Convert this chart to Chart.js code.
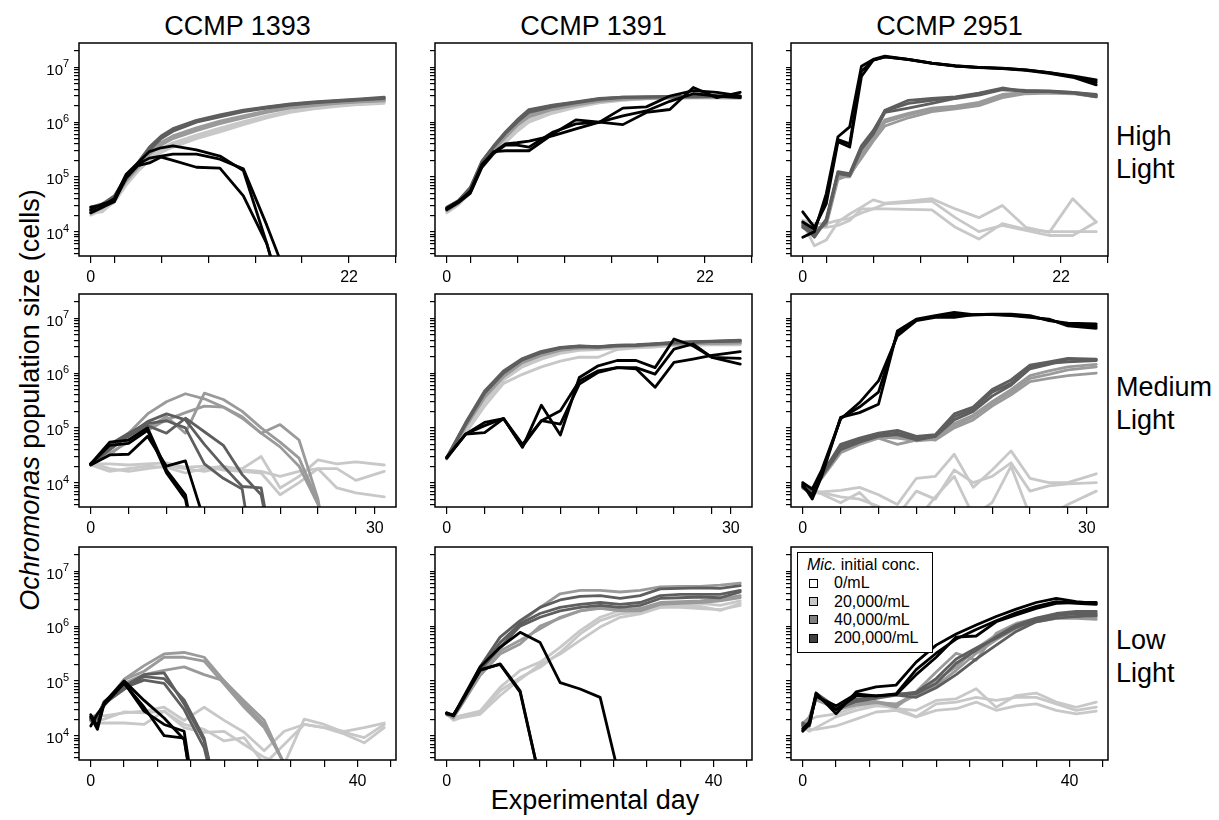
<!DOCTYPE html>
<html>
<head>
<meta charset="utf-8">
<script src="https://cdn.jsdelivr.net/npm/chart.js@4.4.0/dist/chart.umd.min.js"></script>
<style>
  body { margin:0; background:#fff; width:1219px; height:820px; position:relative; overflow:hidden;
         font-family:"Liberation Sans", Arial, sans-serif; color:#000; }
  canvas { position:absolute; }
  .lbl { position:absolute; font-size:27px; line-height:30px; white-space:nowrap; }
  .ctitle { width:317px; text-align:center; }
  .rlabel { line-height:33px; font-size:27px; }
  #ytitle { width:500px; text-align:center; transform:rotate(-90deg); }
  #legend { position:absolute; left:797px; top:552px; width:136px; height:101px; box-sizing:border-box;
            border:1.5px solid #000; background:#fff; font-size:16px; line-height:18.3px; padding:3px 0 0 9px; z-index:5; }
  #legend .li { position:relative; padding-left:27px; }
  #legend .sw { position:absolute; left:2px; top:4.5px; width:7px; height:7px; border:1px solid #000; }
</style>
</head>
<body>
<div class="lbl ctitle" style="left:79px; top:11px;">CCMP 1393</div>
<div class="lbl ctitle" style="left:435px; top:11px;">CCMP 1391</div>
<div class="lbl ctitle" style="left:791px; top:11px;">CCMP 2951</div>
<div class="lbl rlabel" style="left:1116px; top:120px;">High<br>Light</div>
<div class="lbl rlabel" style="left:1116px; top:371px;">Medium<br>Light</div>
<div class="lbl rlabel" style="left:1116px; top:624px;">Low<br>Light</div>
<div class="lbl" id="ytitle" style="left:-220px; top:385px;"><i>Ochromonas</i> population size (cells)</div>
<div class="lbl" style="left:395px; top:785px; width:400px; text-align:center;">Experimental day</div>
<div id="legend">
  <div><i>Mic.</i> initial conc.</div>
  <div class="li"><span class="sw" style="background:#ffffff"></span>0/mL</div>
  <div class="li"><span class="sw" style="background:#c8c8c8"></span>20,000/mL</div>
  <div class="li"><span class="sw" style="background:#808080"></span>40,000/mL</div>
  <div class="li"><span class="sw" style="background:#404040"></span>200,000/mL</div>
</div>
<script>
// ---- sampling days ----
const highDays = [0,1,2,3,4,5,6,7,9,11,13,15,17,19,21,23,25];
const medDays = [0,2,4,6,8,10,12,14,16,18,20,22,24,26,28,31];
const medDays2951 = [0,1,2,4,6,8,10,12,14,16,18,20,22,24,26,28,31];
const lowDays = [0,1,2,5,8,11,14,17,20,23,26,29,32,35,38,41,44];

// ---- High light (3 replicates per Mic. concentration) ----
const hi1393_0 = [
  [2.0e4,2.5e4,3.4e4,7e4,1.25e5,2.0e5,2.8e5,3.5e5,5.0e5,6.6e5,9.0e5,1.2e6,1.5e6,1.75e6,1.95e6,2.1e6,2.2e6],
  [2.2e4,2.3e4,3.6e4,7.5e4,1.3e5,2.2e5,3.0e5,3.8e5,5.4e5,7.2e5,9.6e5,1.25e6,1.55e6,1.8e6,2.0e6,2.15e6,2.3e6],
  [2.4e4,2.6e4,3.8e4,8e4,1.4e5,2.4e5,3.3e5,4.2e5,5.8e5,7.8e5,1.02e6,1.3e6,1.6e6,1.85e6,2.05e6,2.2e6,2.35e6]];
const hi1393_20k = [
  [2.3e4,2.8e4,4e4,8.5e4,1.5e5,2.8e5,4.0e5,5.2e5,7.4e5,9.8e5,1.25e6,1.55e6,1.85e6,2.05e6,2.25e6,2.4e6,2.5e6],
  [2.5e4,2.9e4,4.2e4,8.8e4,1.55e5,2.9e5,4.3e5,5.6e5,7.9e5,1.04e6,1.3e6,1.6e6,1.9e6,2.1e6,2.3e6,2.45e6,2.55e6],
  [2.2e4,2.7e4,3.9e4,8.2e4,1.45e5,2.6e5,3.8e5,5.0e5,7.0e5,9.4e5,1.2e6,1.5e6,1.8e6,2.0e6,2.2e6,2.35e6,2.45e6]];
const hi1393_40k = [
  [2.6e4,3.1e4,4.3e4,9.5e4,1.75e5,3.3e5,5.3e5,7.2e5,1.05e6,1.3e6,1.6e6,1.85e6,2.1e6,2.3e6,2.45e6,2.6e6,2.75e6],
  [2.4e4,3.0e4,4.1e4,9.0e4,1.65e5,3.1e5,5.0e5,6.8e5,1.0e6,1.25e6,1.55e6,1.8e6,2.05e6,2.25e6,2.4e6,2.55e6,2.7e6],
  [2.8e4,3.2e4,4.5e4,1.0e5,1.8e5,3.5e5,5.6e5,7.6e5,1.08e6,1.35e6,1.65e6,1.9e6,2.15e6,2.35e6,2.5e6,2.65e6,2.85e6]];
const hi1393_200k = [
  [2.8e4,3.0e4,4.0e4,1.1e5,1.8e5,2.9e5,3.4e5,3.7e5,3.1e5,2.4e5,1.3e5,6e3,200],
  [2.5e4,3.2e4,3.6e4,1.0e5,1.7e5,2.2e5,2.4e5,2.6e5,2.6e5,2.1e5,1.4e5,1.3e4,1000],
  [2.2e4,2.8e4,3.5e4,9.5e4,1.6e5,1.8e5,2.3e5,2.0e5,1.5e5,1.45e5,4.5e4,6e3,200]];

const hi1391_0 = [
  [2.4e4,3.3e4,5.5e4,1.6e5,2.8e5,4.5e5,7.2e5,1.05e6,1.5e6,1.9e6,2.3e6,2.55e6,2.7e6,2.75e6,2.8e6,2.8e6,2.75e6],
  [2.2e4,3.1e4,5.2e4,1.5e5,2.6e5,4.2e5,6.8e5,1.0e6,1.45e6,1.85e6,2.25e6,2.5e6,2.65e6,2.7e6,2.75e6,2.75e6,2.7e6],
  [2.5e4,3.4e4,5.8e4,1.7e5,3.0e5,4.8e5,7.6e5,1.1e6,1.55e6,1.95e6,2.35e6,2.6e6,2.75e6,2.8e6,2.85e6,2.85e6,2.8e6]];
const hi1391_20k = [
  [2.5e4,3.4e4,5.8e4,1.75e5,3.2e5,5.5e5,9e5,1.3e6,1.75e6,2.1e6,2.45e6,2.65e6,2.75e6,2.8e6,2.85e6,2.85e6,2.8e6],
  [2.6e4,3.5e4,6e4,1.8e5,3.3e5,5.8e5,9.5e5,1.35e6,1.8e6,2.15e6,2.5e6,2.7e6,2.8e6,2.85e6,2.9e6,2.9e6,2.85e6],
  [2.4e4,3.3e4,5.6e4,1.7e5,3.1e5,5.3e5,8.7e5,1.25e6,1.7e6,2.05e6,2.4e6,2.6e6,2.7e6,2.8e6,2.8e6,2.85e6,2.8e6]];
const hi1391_40k = [
  [2.7e4,3.6e4,6.2e4,1.95e5,3.7e5,6.6e5,1.1e6,1.7e6,2.05e6,2.35e6,2.7e6,2.85e6,2.9e6,2.9e6,2.95e6,3.0e6,2.95e6],
  [2.6e4,3.5e4,6e4,1.85e5,3.5e5,6.2e5,1.0e6,1.5e6,1.9e6,2.25e6,2.6e6,2.8e6,2.85e6,2.9e6,2.9e6,2.95e6,2.9e6],
  [2.8e4,3.7e4,6.4e4,1.9e5,3.6e5,6.4e5,1.05e6,1.6e6,2.0e6,2.3e6,2.65e6,2.85e6,2.9e6,2.95e6,2.95e6,3.0e6,2.9e6]];
const hi1391_200k = [
  [2.6e4,3.5e4,5.5e4,1.7e5,2.8e5,4.0e5,4.2e5,4.5e5,5.6e5,7.5e5,1.0e6,9.0e5,1.5e6,1.7e6,4.3e6,2.8e6,3.5e6],
  [2.7e4,3.6e4,5.2e4,1.6e5,2.9e5,3.0e5,3.0e5,3.0e5,6.0e5,1.1e6,1.0e6,1.8e6,1.9e6,3.0e6,3.75e6,3.5e6,3.0e6],
  [2.5e4,3.4e4,5.0e4,1.5e5,2.7e5,3.8e5,3.8e5,3.5e5,6.5e5,9.3e5,1.0e6,1.3e6,1.6e6,2.4e6,3.3e6,3.0e6,2.8e6]];

const hi2951_0 = [
  [1.4e4,5.5e3,7e3,1.5e4,2.1e4,2.8e4,3.8e4,3.3e4,3.6e4,4e4,2.6e4,1.8e4,3e4,1.2e4,9.7e3,4e4,1.5e4],
  [1.5e4,1.2e4,1.2e4,1.3e4,1.6e4,2.6e4,2.6e4,3.2e4,3.4e4,3.6e4,1.8e4,1.0e4,1.3e4,1.05e4,8.5e3,8.5e3,1.5e4],
  [1.6e4,1.4e4,1.4e4,1.6e4,1.75e4,2.2e4,2.6e4,2.6e4,2.55e4,2.5e4,1.2e4,7.3e3,1.4e4,1.1e4,1.0e4,1.0e4,1.0e4]];
const hi2951_20k = [
  [1.3e4,1.0e4,1.4e4,1.0e5,1.0e5,2.5e5,5e5,1.0e6,1.35e6,1.7e6,1.85e6,2.1e6,3.0e6,3.4e6,3.5e6,3.4e6,3.0e6],
  [1.5e4,1.1e4,1.3e4,9e4,1.1e5,2.2e5,4.5e5,8.5e5,1.2e6,1.55e6,1.75e6,2.0e6,2.8e6,3.3e6,3.4e6,3.3e6,2.9e6],
  [1.2e4,9e3,1.5e4,1.1e5,1.05e5,2.7e5,5.5e5,1.1e6,1.45e6,1.8e6,1.95e6,2.3e6,3.2e6,3.5e6,3.5e6,3.4e6,3.1e6]];
const hi2951_40k = [
  [1.3e4,7.9e3,1.6e4,1.2e5,1.1e5,3.5e5,6.5e5,1.65e6,2.5e6,2.7e6,2.9e6,3.4e6,4.2e6,3.6e6,3.6e6,3.4e6,2.9e6],
  [1.4e4,9e3,1.5e4,1.15e5,1.05e5,3.2e5,6e5,1.5e6,1.8e6,2.2e6,2.7e6,3.1e6,3.9e6,3.7e6,3.6e6,3.5e6,3.1e6],
  [1.2e4,8.5e3,1.7e4,1.25e5,1.15e5,3.7e5,7e5,1.6e6,2.2e6,2.5e6,2.8e6,3.3e6,4.0e6,3.8e6,3.7e6,3.5e6,3.2e6]];
const hi2951_200k = [
  [7.9e3,1.0e4,4.9e4,5.4e5,8.2e5,1.05e7,1.4e7,1.6e7,1.4e7,1.2e7,1.07e7,1.0e7,9.7e6,9.0e6,8.0e6,7.0e6,5.9e6],
  [2.3e4,1.2e4,3.2e4,4.4e5,3.5e5,6.8e6,1.35e7,1.55e7,1.38e7,1.18e7,1.05e7,1.0e7,9.5e6,8.8e6,7.8e6,6.6e6,4.8e6],
  [1.5e4,1.1e4,4.0e4,4.8e5,4.0e5,8.5e6,1.35e7,1.55e7,1.4e7,1.2e7,1.06e7,9.9e6,9.6e6,9.0e6,8.0e6,6.8e6,5.3e6]];

// ---- Medium light ----
const med1393_0 = [
  [2.3e4,1.8e4,1.6e4,1.8e4,2e4,1.8e4,1.6e4,1.9e4,1.8e4,3e4,8e3,1.3e4,2.6e4,2.2e4,2.4e4,2.1e4],
  [2.2e4,2.2e4,2.1e4,2.2e4,2.3e4,1.9e4,2e4,1.7e4,1.6e4,1.5e4,6e3,1e4,1.8e4,1.8e4,1.1e4,1.6e4],
  [2.1e4,1.6e4,1.8e4,2e4,1.9e4,1.5e4,1.8e4,2e4,1.7e4,1.6e4,1.3e4,1.6e4,1.8e4,8e3,6.5e3,5.5e3]];
const med1393_20k = [
  [2.2e4,4e4,8e4,1.8e5,3e5,4.2e5,3.4e5,2.4e5,1.6e5,8e4,4.5e4,2e4,4e3,50],
  [2.2e4,3.2e4,6e4,1e5,1.6e5,8e4,4.3e5,3.3e5,2e5,1e5,5.5e4,2.8e4,4.5e3,50],
  [2.2e4,3.5e4,5.5e4,9e4,1.4e5,1.9e5,2.5e5,2.4e5,1.5e5,8e4,1.15e5,6e4,5e3,50]];
const med1393_40k = [
  [2.2e4,5e4,8e4,1.2e5,1.35e5,1.0e5,2.2e4,1.2e4,7.6e3,50],
  [2.2e4,4.5e4,7.5e4,1.3e5,1.8e5,1.4e5,5e4,2e4,8.5e3,8e3,100],
  [2.1e4,4e4,7e4,1.1e5,8e4,1.5e5,8.5e4,4.8e4,1.4e4,6e3,100]];
const med1393_200k = [
  [2.2e4,5.5e4,6e4,1e5,1.7e4,6e3,100],
  [2.2e4,4.8e4,5.2e4,9e4,1.5e4,5e3,100],
  [2.1e4,3.2e4,3.3e4,7e4,2e4,2.5e4,2000]];

const med1391_0 = [
  [2.7e4,8e4,2.5e5,6.5e5,9.5e5,1.3e6,1.65e6,1.95e6,1.95e6,2.7e6,2.9e6,3.0e6,3.2e6,3.2e6,3.3e6,3.3e6],
  [2.8e4,9.5e4,3.2e5,8e5,1.4e6,1.9e6,2.4e6,2.7e6,2.8e6,2.9e6,3.0e6,3.1e6,3.3e6,3.3e6,3.4e6,3.4e6],
  [2.7e4,9e4,3e5,7.5e5,1.3e6,1.8e6,2.3e6,2.6e6,2.7e6,2.85e6,2.95e6,3.05e6,3.25e6,3.3e6,3.35e6,3.4e6]];
const med1391_20k = [
  [2.8e4,1.1e5,3.8e5,9e5,1.6e6,2.2e6,2.7e6,2.9e6,2.9e6,3.1e6,3.1e6,3.3e6,3.4e6,3.5e6,3.5e6,3.6e6],
  [2.8e4,1.05e5,3.6e5,8.6e5,1.55e6,2.1e6,2.6e6,2.85e6,2.9e6,3.05e6,3.1e6,3.25e6,3.35e6,3.45e6,3.5e6,3.55e6],
  [2.9e4,1.15e5,4e5,9.4e5,1.65e6,2.25e6,2.75e6,2.95e6,2.95e6,3.15e6,3.2e6,3.35e6,3.45e6,3.55e6,3.6e6,3.7e6]];
const med1391_40k = [
  [2.8e4,1.2e5,4.5e5,1.05e6,1.8e6,2.4e6,2.9e6,3.1e6,3.0e6,3.2e6,3.2e6,3.4e6,3.6e6,3.7e6,3.8e6,3.9e6],
  [2.9e4,1.25e5,4.7e5,1.1e6,1.85e6,2.5e6,2.95e6,3.15e6,3.05e6,3.25e6,3.3e6,3.45e6,3.65e6,3.75e6,3.85e6,4.0e6],
  [2.8e4,1.15e5,4.3e5,1.0e6,1.75e6,2.35e6,2.85e6,3.05e6,3.0e6,3.15e6,3.2e6,3.35e6,3.55e6,3.65e6,3.75e6,3.85e6]];
const med1391_200k = [
  [2.9e4,7.7e4,8.2e4,1.48e5,4.4e4,2.6e5,7.4e4,8.3e5,1.36e6,1.7e6,1.7e6,1.26e6,4.2e6,3.16e6,1.94e6,1.46e6],
  [2.9e4,7.7e4,1.26e5,1.48e5,4.6e4,1.35e5,2.05e5,7.2e5,1.1e6,1.26e6,1.2e6,5.5e5,1.57e6,1.8e6,2.1e6,2.46e6],
  [2.8e4,7.7e4,1.1e5,1.48e5,5e4,1.35e5,1.17e5,6.3e5,1.03e6,1.26e6,1.26e6,9.6e5,2.75e6,3.4e6,1.94e6,1.86e6]];

const med2951_0 = [
  [9e3,7e3,6.8e3,7.2e3,8.2e3,6e3,4e3,1.2e4,1.3e4,3.3e4,8.2e3,1.7e4,3.8e4,1.2e4,1e4,1e4,1.45e4],
  [8.5e3,7e3,6.2e3,4.3e3,6.6e3,3e3,2.5e3,7e3,5e3,1.7e4,1e4,1.3e4,2.3e4,7e3,8.7e3,9.5e3,1e4],
  [8e3,6.5e3,6.6e3,5.5e3,5e3,3.7e3,2e3,2e3,5.5e3,1.3e4,2.5e3,4.3e3,2e4,2.5e3,2.5e3,4e3,7e3]];
const med2951_20k = [
  [9e3,8e3,1.2e4,3.5e4,5e4,6.5e4,5e4,6e4,6.5e4,1.2e5,1.7e5,3e5,5e5,9e5,1.1e6,1.3e6,1.45e6],
  [1e4,7e3,1.3e4,3.8e4,5.5e4,7e4,7e4,6.5e4,6e4,1e5,1.4e5,2.5e5,4e5,7e5,8e5,9e5,1e6],
  [9.5e3,7.5e3,1.3e4,3.6e4,5.2e4,6.8e4,6.5e4,5.8e4,6.2e4,1.1e5,1.6e5,2.8e5,4.5e5,8e5,9.5e5,1.15e6,1.3e6]];
const med2951_40k = [
  [9e3,7e3,1.4e4,5e4,6.5e4,8e4,9e4,7e4,7.5e4,1.8e5,2.4e5,5e5,7.5e5,1.4e6,1.6e6,1.85e6,1.8e6],
  [8e3,6e3,1.5e4,4.5e4,6e4,7.5e4,8e4,6.5e4,7e4,1.6e5,2.2e5,4.5e5,6.5e5,1.3e6,1.5e6,1.6e6,1.7e6],
  [8.5e3,6.5e3,1.3e4,4e4,5.5e4,7e4,7.5e4,6e4,7e4,1.4e5,2e5,3.8e5,6e5,1.2e6,1.45e6,1.8e6,1.75e6]];
const med2951_200k = [
  [9.3e3,5e3,1.3e4,1.55e5,1.9e5,2.7e5,5.9e6,9.7e6,1.12e7,1.29e7,1.17e7,1.2e7,1.2e7,1.12e7,9.1e6,8.2e6,7.9e6],
  [1e4,7.6e3,1.7e4,1.45e5,2.9e5,7.2e5,4.8e6,9.1e6,1.04e7,1.04e7,1.17e7,1.17e7,1.12e7,1.04e7,9.7e6,7.3e6,6.6e6],
  [8.5e3,6e3,1.5e4,1.5e5,2.4e5,4.5e5,5.4e6,9.4e6,1.08e7,1.15e7,1.15e7,1.18e7,1.15e7,1.08e7,9.4e6,7.8e6,7.2e6]];

// ---- Low light ----
const low1393_0 = [
  [2.2e4,2.4e4,2.3e4,2.6e4,2.8e4,3.3e4,1.9e4,3.3e4,1.9e4,1.15e4,5.3e3,1.2e4,1.6e4,1.4e4,1.2e4,1.4e4,1.7e4],
  [1.8e4,1.7e4,1.7e4,1.7e4,1.6e4,2.8e4,1.6e4,1.3e4,8e3,9.2e3,3e3,6.9e3,1.6e4,1.4e4,1.07e4,7.4e3,1.4e4],
  [2e4,1.9e4,2e4,2.7e4,2.6e4,2.8e4,1.4e4,1.15e4,1.2e4,6.9e3,4e3,3e3,2e4,1.6e4,1.15e4,9.2e3,1.6e4]];
const low1393_20k = [
  [2e4,2.5e4,3.6e4,1.07e5,1.9e5,3.1e5,3.3e5,2.7e5,1e5,4.3e4,1.9e4,3e3],
  [2.2e4,2.3e4,3.8e4,1.05e5,1.5e5,2.7e5,2.7e5,2.3e5,8.7e4,3.3e4,1.4e4,3.2e3],
  [1.9e4,2.1e4,3.5e4,9e4,1.3e5,1.55e5,1.8e5,1.3e5,1e5,3.8e4,1.6e4,3e3]];
const low1393_40k = [
  [2e4,2.2e4,4.2e4,8e4,1.3e5,1.4e5,3.8e4,8e3,200],
  [2.1e4,2.3e4,4e4,7.5e4,1.03e5,9e4,3e4,6e3,200],
  [1.9e4,2e4,3.8e4,7e4,1.2e5,1.1e5,4.5e4,9e3,200]];
const low1393_200k = [
  [2.2e4,1.3e4,3.8e4,9.3e4,2.8e4,1.6e4,1.2e4,50],
  [2.4e4,1.5e4,4e4,1e5,4.4e4,2.1e4,8.5e3,50],
  [1.5e4,2.5e4,3.6e4,9e4,3.3e4,1e4,9e3,50]];

const low1391_0 = [
  [2.6e4,2.1e4,2.3e4,2.6e4,6.6e4,1.15e5,1.77e5,3.3e5,7.2e5,1.26e6,1.67e6,1.8e6,2.2e6,2.4e6,2.3e6,1.93e6,2.6e6],
  [2.5e4,2e4,2.3e4,2.8e4,7.6e4,1.55e5,2.2e5,4.1e5,8.3e5,1.45e6,1.93e6,1.93e6,2.4e6,2.6e6,2.6e6,2.4e6,2.9e6],
  [2.5e4,1.9e4,2.1e4,2.45e4,5.4e4,1.07e5,2e5,3.1e5,5.5e5,9.6e5,1.45e6,1.67e6,2.2e6,2.2e6,2.1e6,2.0e6,2.4e6]];
const low1391_20k = [
  [2.5e4,2.3e4,3.5e4,1.3e5,3.8e5,1.17e6,2.2e6,3.9e6,4.5e6,4.5e6,4.2e6,4.5e6,5.2e6,5.3e6,5.3e6,5.6e6,6.1e6],
  [2.4e4,2.2e4,3.4e4,1.3e5,3.5e5,5.5e5,8.9e5,1.45e6,1.9e6,2.1e6,1.9e6,1.9e6,2.5e6,2.6e6,2.7e6,2.9e6,3.3e6],
  [2.5e4,2.1e4,3.3e4,1.25e5,3.1e5,4.7e5,1e6,1.4e6,1.9e6,2.2e6,2e6,2.1e6,2.7e6,2.8e6,2.9e6,3.1e6,3.6e6]];
const low1391_40k = [
  [2.5e4,2.4e4,3.6e4,1.8e5,6.3e5,1.26e6,2.2e6,3e6,3.5e6,3.6e6,3.2e6,3.6e6,4.8e6,4.9e6,5e6,4.9e6,5.5e6],
  [2.5e4,2.3e4,3.5e4,1.55e5,4.1e5,1e6,1.45e6,1.9e6,2.2e6,2.4e6,2.2e6,2.4e6,3.2e6,3.3e6,3.4e6,3.3e6,4.2e6],
  [2.6e4,2.4e4,3.6e4,1.65e5,5e5,1.1e6,1.7e6,2.2e6,2.5e6,2.7e6,2.5e6,2.7e6,3.6e6,3.8e6,3.8e6,3.8e6,4.5e6]];
const low1391_200k = [
  [2.5e4,2.4e4,3.8e4,1.55e5,2.05e5,6.6e4,1500],
  [2.6e4,2.3e4,3.9e4,1.8e5,4.1e5,7.7e5,5e5,9.3e4,7.1e4,5e4,1500],
  [2.6e4,2.3e4,3.7e4,1.6e5,2e5,6.2e4,1500]];

const low2951_0 = [
  [1.75e4,1.3e4,1.3e4,1.5e4,2e4,2.7e4,2.9e4,2.2e4,2.9e4,3.1e4,4.1e4,2.9e4,3.5e4,3.8e4,2.9e4,2.5e4,2.8e4],
  [1.6e4,1.9e4,2.2e4,2.5e4,3.3e4,3.8e4,3.1e4,2.9e4,4.4e4,4.7e4,7.2e4,3.3e4,5.4e4,6e4,4.1e4,3.3e4,4.1e4],
  [1.4e4,1.2e4,1.4e4,2.2e4,2.9e4,3.5e4,3.3e4,2.2e4,3.8e4,4.1e4,5e4,4.4e4,5e4,5e4,3.8e4,2.9e4,3.3e4]];
const low2951_20k = [
  [1.6e4,2.2e4,5e4,2.9e4,3.8e4,4.1e4,3.3e4,6.3e4,1.45e5,3.2e5,2.4e5,7.4e5,1.12e6,1.38e6,1.6e6,1.67e6,1.6e6],
  [1.5e4,2e4,4.8e4,3e4,3.6e4,4e4,3.8e4,5.8e4,1.03e5,1.8e5,3.9e5,6.9e5,1.05e6,1.28e6,1.55e6,1.6e6,1.45e6],
  [1.7e4,2.1e4,4.5e4,3.2e4,3.9e4,4.2e4,3.6e4,5.5e4,8.3e4,1.56e5,3.2e5,5.6e5,9.1e5,1.2e6,1.38e6,1.38e6,1.33e6]];
const low2951_40k = [
  [1.6e4,1.5e4,5.8e4,3.1e4,4.4e4,5e4,5.8e4,5.8e4,9e4,2.1e5,3.6e5,6.4e5,1.05e6,1.4e6,1.7e6,1.85e6,1.85e6],
  [1.5e4,1.6e4,5.5e4,3e4,4.2e4,4.8e4,5.5e4,5e4,7.5e4,1.3e5,2.5e5,4.5e5,8e5,1.2e6,1.4e6,1.5e6,1.55e6],
  [1.7e4,1.5e4,6e4,3.3e4,4.6e4,5.1e4,5.6e4,6.2e4,1.1e5,2.5e5,4e5,6e5,9.5e5,1.3e6,1.55e6,1.7e6,1.7e6]];
const low2951_200k = [
  [1.26e4,1.8e4,6e4,2.5e4,6.3e4,7.8e4,8.4e4,2.2e5,4.5e5,7.2e5,1.05e6,1.5e6,2.04e6,2.7e6,3.2e6,2.8e6,2.6e6],
  [1.2e4,1.6e4,5.5e4,3e4,5.3e4,5.3e4,5.8e4,1.6e5,3.2e5,5.8e5,8.7e5,1.25e6,1.75e6,2.3e6,2.8e6,2.6e6,2.5e6],
  [1.35e4,1.7e4,5.2e4,3.5e4,5.8e4,5.3e4,5.6e4,1.3e5,2.7e5,6.3e5,6.6e5,1.2e6,1.6e6,2.1e6,2.6e6,2.7e6,2.7e6]];

// ---- axes ----
const yMin = 3589, yMax = 2.786e7;            // R log axis, ylim 5e3..2e7 plus 4%
const yTickVals = [4e3,5e3,6e3,7e3,8e3,9e3,1e4,2e4,3e4,4e4,5e4,6e4,7e4,8e4,9e4,
  1e5,2e5,3e5,4e5,5e5,6e5,7e5,8e5,9e5,1e6,2e6,3e6,4e6,5e6,6e6,7e6,8e6,9e6,1e7,2e7];
const xRanges = [[-1, 26], [-1.24, 32.24], [-1.76, 45.76]];
const xTickVals = [[0,2,6,10,14,18,22,26], [0,4,8,12,16,20,24,28,30], [0,5,10,15,20,25,30,35,40,45]];
const xTickLabels = [[0,22], [0,30], [0,40]];

// series order: 200k (drawn on top), 40k, 20k, 0/mL
const shades = ['#000000', '#5e5e5e', '#9a9a9a', '#c8c8c8'];

const panels = [
  [highDays, [hi1393_200k, hi1393_40k, hi1393_20k, hi1393_0]],
  [highDays, [hi1391_200k, hi1391_40k, hi1391_20k, hi1391_0]],
  [highDays, [hi2951_200k, hi2951_40k, hi2951_20k, hi2951_0]],
  [medDays, [med1393_200k, med1393_40k, med1393_20k, med1393_0]],
  [medDays, [med1391_200k, med1391_40k, med1391_20k, med1391_0]],
  [medDays2951, [med2951_200k, med2951_40k, med2951_20k, med2951_0]],
  [lowDays, [low1393_200k, low1393_40k, low1393_20k, low1393_0]],
  [lowDays, [low1391_200k, low1391_40k, low1391_20k, low1391_0]],
  [lowDays, [low2951_200k, low2951_40k, low2951_20k, low2951_0]]
];

const colLeft = [79, 435, 791], rowTop = [43, 294, 547];
const boxW = 317, boxH = 213, yAxisW = 60, xAxisH = 34, padT = 10, padR = 10;
const FONT = '"Liberation Sans", Arial, sans-serif';
Chart.defaults.font.family = FONT;

// box around the plotting region
const frame = {
  id: 'frame',
  afterDraw(chart) {
    const a = chart.chartArea, ctx = chart.ctx;
    ctx.save();
    ctx.strokeStyle = '#000';
    ctx.lineWidth = 1.5;
    ctx.strokeRect(a.left, a.top, a.right - a.left, a.bottom - a.top);
    ctx.restore();
  }
};

// "10^n" labels on the log axis
const expLabels = {
  id: 'expLabels',
  afterDraw(chart, args, opts) {
    if (!opts.show) return;
    const sc = chart.scales.y, ctx = chart.ctx, x0 = chart.chartArea.left;
    ctx.save();
    ctx.fillStyle = '#000';
    ctx.textBaseline = 'middle';
    [4, 5, 6, 7].forEach(e => {
      const py = sc.getPixelForValue(Math.pow(10, e));
      ctx.font = '15px ' + FONT;
      ctx.textAlign = 'right';
      ctx.fillText('10', x0 - 16, py + 3);
      ctx.font = '11px ' + FONT;
      ctx.textAlign = 'left';
      ctx.fillText(String(e), x0 - 16, py - 3);
    });
    ctx.restore();
  }
};

panels.forEach((p, idx) => {
  const row = Math.floor(idx / 3), col = idx % 3;
  const days = p[0];
  const cv = document.createElement('canvas');
  const W = yAxisW + boxW + padR, H = padT + boxH + xAxisH;
  cv.width = W; cv.height = H;
  cv.style.left = (colLeft[col] - yAxisW) + 'px';
  cv.style.top = (rowTop[row] - padT) + 'px';
  cv.style.width = W + 'px'; cv.style.height = H + 'px';
  document.body.insertBefore(cv, document.getElementById('legend'));

  const datasets = [];
  p[1].forEach((group, k) => group.forEach(rep => datasets.push({
    data: days.map((d, i) => ({ x: d, y: rep[i] ?? null })),
    borderColor: shades[k], borderWidth: 2.8, pointRadius: 0, tension: 0,
    fill: false, spanGaps: false, clip: 0, borderJoinStyle: 'round', borderCapStyle: 'round'
  })));

  new Chart(cv, {
    type: 'line',
    data: { datasets },
    options: {
      responsive: false, animation: false, events: [],
      layout: { padding: { left: 0, top: padT, right: padR, bottom: 0 } },
      plugins: { legend: { display: false }, tooltip: { enabled: false }, expLabels: { show: col === 0 } },
      scales: {
        x: {
          type: 'linear', min: xRanges[row][0], max: xRanges[row][1],
          afterBuildTicks: s => { s.ticks = xTickVals[row].map(v => ({ value: v })); },
          afterFit: s => { s.height = xAxisH; },
          ticks: { autoSkip: false, maxRotation: 0, padding: 5, color: '#000', font: { size: 16 },
                   callback: v => xTickLabels[row].includes(v) ? String(v) : '' },
          grid: { drawOnChartArea: false, drawTicks: true, tickLength: 7, color: '#000', lineWidth: 1.2 },
          border: { display: false }
        },
        y: {
          type: 'logarithmic', min: yMin, max: yMax,
          afterBuildTicks: s => { s.ticks = yTickVals.map(v => ({ value: v })); },
          afterFit: s => { s.width = yAxisW; },
          ticks: { display: false, autoSkip: false },
          grid: { drawOnChartArea: false, drawTicks: true, tickLength: 5, color: '#000', lineWidth: 1.2 },
          border: { display: false }
        }
      }
    },
    plugins: [frame, expLabels]
  });
});
</script>
</body>
</html>
